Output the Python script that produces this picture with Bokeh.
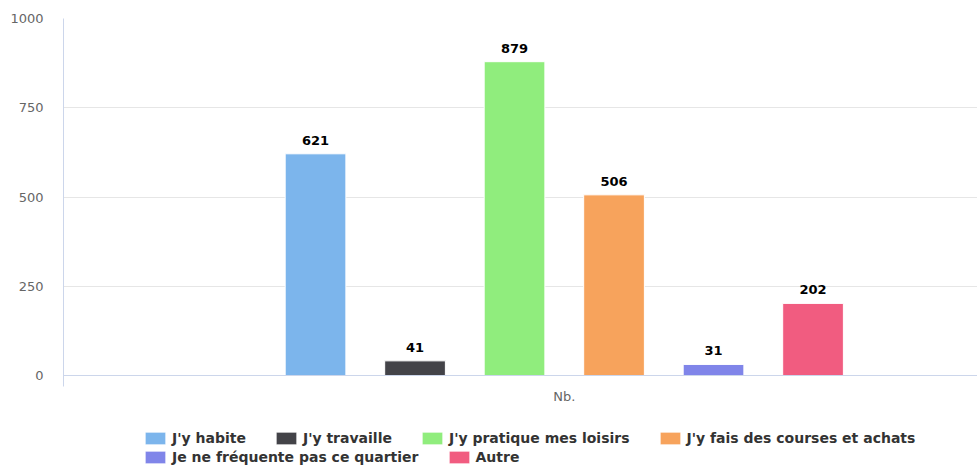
from bokeh.plotting import figure
from bokeh.models import Range1d, FixedTicker, Legend, LegendItem, Span, Label
from bokeh.core.properties import value
from bokeh.embed import file_html
from bokeh.resources import INLINE

# ---- data ----
group_label = ["Nb."]
series_names = [
    "J'y habite",
    "J'y travaille",
    "J'y pratique mes loisirs",
    "J'y fais des courses et achats",
    "Je ne fr\u00e9quente pas ce quartier",
    "Autre",
]
series_values = [621, 41, 879, 506, 31, 202]
series_colors = ["#7cb5ec", "#434348", "#90ed7d", "#f7a35c", "#8085e9", "#f15c80"]
y_ticks = [0, 250, 500, 750, 1000]

FONT = "DejaVu Sans"

positions = list(range(1, len(series_values) + 1))
group_center = (positions[0] + positions[-1]) / 2

p = figure(
    width=977, height=465,
    output_backend="svg", toolbar_location=None,
    x_range=Range1d(-1.533, 7.653), y_range=Range1d(-252.1, 1000),
    x_axis_location=None,
    min_border_left=63, min_border_right=0, min_border_top=18, min_border_bottom=0,
)
p.outline_line_color = None
p.background_fill_color = "white"
p.border_fill_color = "white"

# y axis
p.yaxis.ticker = FixedTicker(ticks=y_ticks)
p.yaxis.bounds = (-31, 1000)
p.yaxis.axis_line_color = "#ccd6eb"
p.yaxis.major_tick_line_color = None
p.yaxis.minor_tick_line_color = None
p.yaxis.major_tick_out = 0
p.yaxis.major_label_standoff = 20
p.yaxis.major_label_text_font = FONT
p.yaxis.major_label_text_font_size = "13px"
p.yaxis.major_label_text_color = "#666666"

p.xgrid.grid_line_color = None
p.ygrid.ticker = FixedTicker(ticks=y_ticks[1:])
p.ygrid.grid_line_color = "#e6e6e6"

# x axis line and category label
p.add_layout(Span(location=0, dimension="width", line_color="#ccd6eb", line_width=1))
p.add_layout(Label(x=group_center, y=0, y_offset=-13, text=group_label[0],
                   text_align="center", text_baseline="top",
                   text_font=FONT, text_font_size="13px", text_color="#666666"))

items = []
for xpos, name, val, col in zip(positions, series_names, series_values, series_colors):
    r = p.vbar(x=[xpos], top=[val], width=0.61, bottom=0,
               fill_color=col, line_color="white", line_width=1)
    items.append(LegendItem(label=name, renderers=[r]))

p.text(x=positions, y=series_values, text=[str(v) for v in series_values],
       text_align="center", text_baseline="bottom", y_offset=-9,
       text_font=value(FONT), text_font_size="13px", text_font_style="bold",
       text_color="#000000")

def make_legend(its, loc):
    return Legend(items=its, orientation="horizontal", location=loc,
                  label_text_font=FONT, label_text_font_size="14px",
                  label_text_font_style="bold", label_text_color="#333333",
                  glyph_width=26, glyph_height=16, label_standoff=4,
                  spacing=27, padding=0, margin=0,
                  border_line_color=None, background_fill_alpha=0,
                  label_height=16)

p.add_layout(make_legend(items[:4], (79, 19)))
p.add_layout(make_legend(items[4:], (79, 0)))

open("out.html", "w").write(file_html(p, INLINE))
